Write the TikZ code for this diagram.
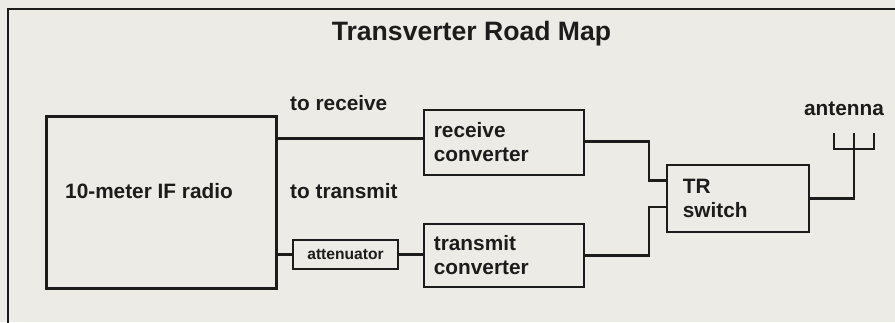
\documentclass[tikz,border=0pt]{standalone}
\usepackage{fontspec}
\setmainfont{Liberation Sans}
\newfontfamily\boldsans{Liberation Sans Bold}
\definecolor{paper}{HTML}{EDEBE5}
\definecolor{ink}{HTML}{1C1C1C}
\begin{document}
\begin{tikzpicture}[x=1pt,y=-1pt,
  every node/.style={text=ink},
  blk/.style={draw=ink,line width=1.8pt,fill=none,inner sep=0pt,anchor=north west,align=left,font=\boldsans\fontsize{20.8}{24}\selectfont},
  wire/.style={draw=ink,line width=2.6pt,line cap=rect},
  lbl/.style={font=\boldsans\fontsize{20.8}{24}\selectfont,inner sep=0pt}]
\fill[paper] (0,0) rectangle (895,322);
\useasboundingbox (0,0) rectangle (895,322);
% frame
\draw[draw=ink,line width=2.6pt] (8,323) -- (8,9) -- (896,9);
% title
\node[font=\boldsans\fontsize{26.6}{30}\selectfont,inner sep=0pt] (title) at (471.5,34) {Transverter Road Map};
% boxes
\node[blk,line width=2.6pt,minimum width=230pt,minimum height=172pt] (radio) at (45,115) {};
\node[lbl] (radiolbl) at (149,191) {10-meter IF radio};
\node[blk,minimum width=160pt,minimum height=65pt,text width=140pt,inner xsep=10pt] (rx) at (423,109) {receive\\converter};
\node[blk,minimum width=160pt,minimum height=63pt,text width=140pt,inner xsep=10pt] (tx) at (423,223) {transmit\\converter};
\node[blk,minimum width=142pt,minimum height=67pt,text width=110pt,inner xsep=16pt] (tr) at (666,164) {TR\\switch};
\node[draw=ink,line width=1.5pt,minimum width=105pt,minimum height=29pt,inner sep=0pt,font=\boldsans\fontsize{15.6}{18}\selectfont] (att) at (345.5,254.5) {attenuator};
% labels
\node[lbl,anchor=west] (torx) at (290,103) {to receive};
\node[lbl,anchor=west] (totx) at (290,191) {to transmit};
\node[lbl] (antlbl) at (844,109) {antenna};
% antenna
\coordinate (ant) at (854,149);
\draw[wire,line width=2.2pt,line cap=butt] (834,133) -- (834,149) -- (874,149) -- (874,133);
\draw[wire,line width=2.2pt,line cap=butt] (854,133) -- (ant);
% wires
\draw[wire,line cap=butt] ([yshift=4pt]rx.west -| radio.east) -- ([yshift=4pt]rx.west);
\draw[wire,line cap=butt] (att.west -| radio.east) -- (att.west);
\draw[wire,line cap=butt] (att.east) -- (att.east -| tx.west);
\draw[wire,line cap=butt] ([yshift=1pt]rx.east) -- ++(64,0) |- ([yshift=18pt]tr.west);
\draw[wire,line cap=butt] (tx.east) -- ++(64,0) |- ([yshift=-8.5pt]tr.west);
\draw[wire,line cap=butt] (tr.east) -| (ant);
\end{tikzpicture}
\end{document}
